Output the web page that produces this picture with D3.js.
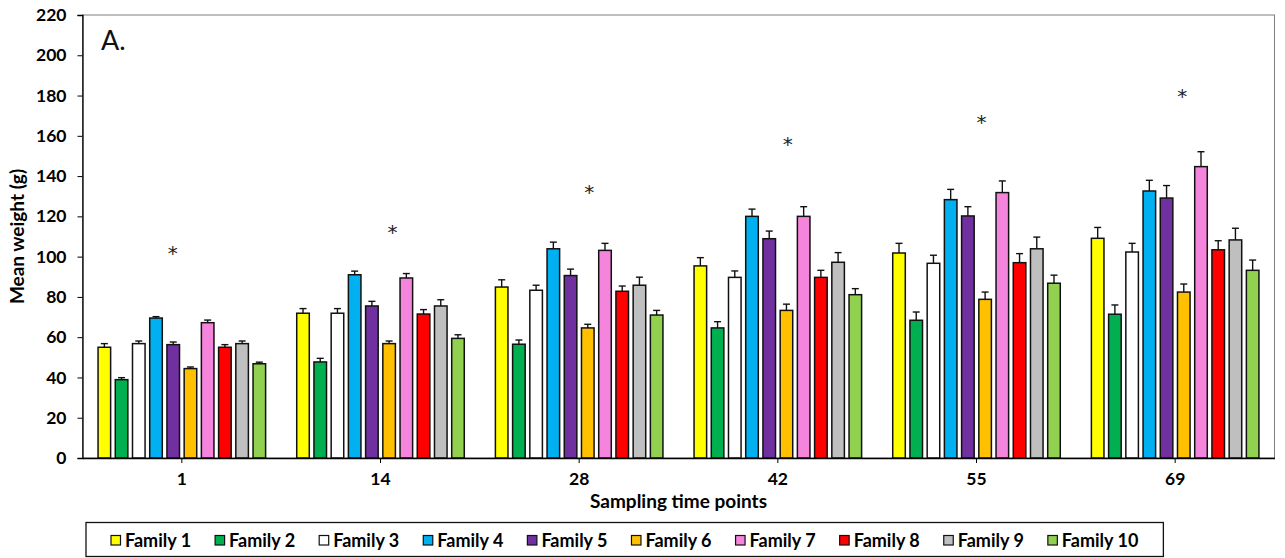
<!DOCTYPE html>
<html>
<head>
<meta charset="utf-8">
<script src="https://cdn.jsdelivr.net/npm/d3@7"></script>
<style>
  html, body { margin: 0; padding: 0; background: #fff; }
  svg { display: block; font-family: Lato, "Open Sans", sans-serif; }
</style>
</head>
<body>
<svg id="chart" width="1285" height="558"></svg>
<script>
// ---- data ----
const timePoints = ["1", "14", "28", "42", "55", "69"];
const families = ["Family 1", "Family 2", "Family 3", "Family 4", "Family 5",
                  "Family 6", "Family 7", "Family 8", "Family 9", "Family 10"];
const colors = ["#FFFF00", "#00B050", "#FFFFFF", "#00B0F0", "#7030A0",
                "#FFC000", "#F585DC", "#FF0000", "#BFBFBF", "#92D050"];
// mean weight (g) per family, one array per time point
const means_t1  = [55.0, 38.9, 56.8, 69.5, 56.3, 44.4, 67.2, 55.0, 56.8, 46.8];
const means_t14 = [71.9, 47.7, 71.9, 91.0, 75.5, 56.8, 89.4, 71.5, 75.5, 59.4];
const means_t28 = [84.9, 56.5, 83.3, 103.9, 90.6, 64.6, 103.1, 82.8, 85.8, 71.0];
const means_t42 = [95.4, 64.6, 89.7, 120.0, 108.9, 73.3, 120.0, 89.7, 97.2, 81.1];
const means_t55 = [101.8, 68.4, 96.7, 128.3, 120.2, 78.8, 131.8, 97.0, 103.9, 86.8];
const means_t69 = [109.1, 71.4, 102.3, 132.6, 129.1, 82.4, 144.7, 103.4, 108.3, 93.2];
// error (upper bar length, g)
const err_t1  = [1.8, 1.0, 1.3, 0.7, 1.3, 0.8, 1.3, 1.3, 1.3, 0.8];
const err_t14 = [2.3, 1.8, 2.3, 1.8, 2.3, 1.3, 2.2, 2.2, 3.1, 1.8];
const err_t28 = [3.6, 2.1, 2.5, 3.3, 3.2, 1.8, 3.5, 2.6, 4.0, 2.3];
const err_t42 = [4.1, 3.1, 3.2, 3.6, 3.8, 3.1, 4.8, 3.5, 4.8, 3.0];
const err_t55 = [4.8, 4.1, 4.0, 5.1, 4.6, 3.6, 5.8, 4.5, 5.8, 4.0];
const err_t69 = [5.4, 4.6, 4.3, 5.3, 6.2, 4.0, 7.4, 4.5, 5.8, 5.1];
const meansAll = [means_t1, means_t14, means_t28, means_t42, means_t55, means_t69];
const errAll = [err_t1, err_t14, err_t28, err_t42, err_t55, err_t69];
// significance markers: height (g) of the asterisk at each time point
const starLevel = [104, 114, 134, 158, 168.7, 182];
const yTicks = [0, 20, 40, 60, 80, 100, 120, 140, 160, 180, 200, 220];
const yTitle = "Mean weight (g)";
const xTitle = "Sampling time points";
const panelLabel = "A.";

// ---- layout ----
const starDx = [-9, 12, 10, 10, 5, 7]; // px offset of asterisk from group centre
const plot = { left: 82.5, right: 1274.5, top: 15, bottom: 458 };
const svg = d3.select("#chart");

const x0 = d3.scaleBand().domain(timePoints).range([plot.left, plot.right]).padding(0);
const x1 = d3.scaleBand().domain(d3.range(families.length))
  .range([0, x0.bandwidth()]).paddingInner(0.27).paddingOuter(0.9035);
const y = d3.scaleLinear().domain([0, 220]).range([plot.bottom, plot.top]);

// frame
svg.append("rect")
  .attr("x", plot.left).attr("y", plot.top)
  .attr("width", plot.right - plot.left).attr("height", plot.bottom - plot.top)
  .attr("fill", "none").attr("stroke", "#7f7f7f").attr("stroke-width", 1);

// bars
const rows = [];
timePoints.forEach((t, gi) => {
  families.forEach((f, si) => {
    rows.push({ t, gi, si, v: meansAll[gi][si], e: errAll[gi][si] });
  });
});

const bars = svg.append("g");
bars.selectAll("rect").data(rows).join("rect")
  .attr("x", d => x0(d.t) + x1(d.si))
  .attr("y", d => y(d.v))
  .attr("width", x1.bandwidth())
  .attr("height", d => y(0) - y(d.v))
  .attr("fill", d => colors[d.si])
  .attr("stroke", "#111")
  .attr("stroke-width", 1.5);

// error bars
const eb = svg.append("g").attr("stroke", "#111").attr("stroke-width", 1.4);
eb.selectAll("line.v").data(rows).join("line").attr("class", "v")
  .attr("x1", d => x0(d.t) + x1(d.si) + x1.bandwidth() / 2)
  .attr("x2", d => x0(d.t) + x1(d.si) + x1.bandwidth() / 2)
  .attr("y1", d => y(d.v))
  .attr("y2", d => y(d.v + d.e));
eb.selectAll("line.c").data(rows).join("line").attr("class", "c")
  .attr("x1", d => x0(d.t) + x1(d.si) + x1.bandwidth() / 2 - 3.5)
  .attr("x2", d => x0(d.t) + x1(d.si) + x1.bandwidth() / 2 + 3.5)
  .attr("y1", d => y(d.v + d.e))
  .attr("y2", d => y(d.v + d.e));

// asterisks
svg.append("g").selectAll("text").data(timePoints).join("text")
  .attr("x", (t, i) => x0(t) + x0.bandwidth() / 2 + starDx[i])
  .attr("y", (t, i) => y(starLevel[i]) + 11)
  .attr("text-anchor", "middle")
  .attr("font-family", "'DejaVu Sans', sans-serif")
  .attr("font-size", 20)
  .attr("fill", "#222")
  .text("*");

// y axis
const yAxis = svg.append("g").attr("transform", `translate(${plot.left},0)`)
  .call(d3.axisLeft(y).tickValues(yTicks).tickSize(5).tickPadding(11));
yAxis.select(".domain").attr("stroke", "#000").attr("stroke-width", 1.3);
yAxis.selectAll(".tick line").attr("stroke", "#000").attr("stroke-width", 1);
yAxis.selectAll(".tick text").attr("font-size", 17.5).attr("font-weight", "bold")
  .attr("font-family", "Lato, sans-serif").attr("fill", "#000");

// x axis
const xAxis = svg.append("g").attr("transform", `translate(0,${plot.bottom})`)
  .call(d3.axisBottom(x0).tickSize(5).tickPadding(10).tickSizeOuter(0));
xAxis.select(".domain").attr("stroke", "#000").attr("stroke-width", 1.3);
xAxis.selectAll(".tick line").attr("stroke", "#000").attr("stroke-width", 1);
xAxis.selectAll(".tick text").attr("font-size", 17.5).attr("font-weight", "bold")
  .attr("font-family", "Lato, sans-serif").attr("fill", "#000");

// titles
svg.append("text")
  .attr("transform", `translate(24,${(plot.top + plot.bottom) / 2}) rotate(-90)`)
  .attr("text-anchor", "middle")
  .attr("font-size", 19).attr("font-weight", "bold")
  .text(yTitle);
svg.append("text")
  .attr("x", (plot.left + plot.right) / 2).attr("y", 508)
  .attr("text-anchor", "middle")
  .attr("font-size", 19).attr("font-weight", "bold")
  .text(xTitle);
svg.append("text")
  .attr("x", 101).attr("y", 50)
  .attr("font-size", 27)
  .attr("fill", "#111")
  .text(panelLabel);

// legend
const legend = svg.append("g");
const legBox = legend.append("rect")
  .attr("y", 522.5).attr("height", 34)
  .attr("fill", "#fff").attr("stroke", "#111").attr("stroke-width", 1.3);
let cx = 111;
families.forEach((f, i) => {
  legend.append("rect")
    .attr("x", cx).attr("y", 535.5).attr("width", 9.5).attr("height", 9.5)
    .attr("fill", colors[i]).attr("stroke", "#111").attr("stroke-width", 1.2);
  const tx = legend.append("text")
    .attr("x", cx + 14).attr("y", 546.5)
    .attr("font-size", 18).attr("font-weight", "bold")
    .text(f);
  const w = tx.node().getComputedTextLength();
  cx = cx + 14 + w + (i < families.length - 1 ? 24 : 0);
});
legBox.attr("x", 86).attr("width", cx + 25 - 86);
</script>
</body>
</html>
